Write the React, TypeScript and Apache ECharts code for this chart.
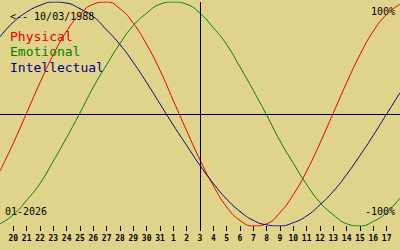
import React, { useEffect, useRef } from "react";
import * as echarts from "echarts";

// Day labels for day index 0..30 (19 Dec 2025 .. 18 Jan 2026)
const dayLabels = [
  "19", "20", "21", "22", "23", "24", "25", "26", "27", "28", "29", "30", "31",
  "1", "2", "3", "4", "5", "6", "7", "8", "9", "10", "11", "12", "13", "14", "15", "16", "17", "18",
];
const tickDays = [1, 2, 3, 4, 5, 6, 7, 8, 9, 10, 11, 12, 13, 14, 15, 16, 17, 18, 19, 20, 21, 22, 23, 24, 25, 26, 27, 28, 29];
const todayIndex = 15;

const physical = [-51, -26, 1, 28, 53, 74, 89, 98, 100, 94, 81, 62, 39, 12, -15, -41, -64, -83, -95, -100, -98, -88, -72, -51, -26, 1, 28, 53, 74, 89, 98];
const emotional = [-98, -90, -77, -62, -42, -21, 1, 24, 44, 63, 79, 90, 98, 100, 98, 90, 77, 62, 42, 21, -1, -24, -44, -63, -79, -90, -98, -100, -96, -88, -75];
const intellectual = [69, 82, 91, 97, 100, 99, 94, 87, 75, 62, 46, 28, 9, -10, -28, -46, -62, -76, -87, -95, -99, -100, -97, -91, -81, -69, -54, -37, -19, 0, 19];

const birthText = "<-- 10/03/1988";
const monthText = "01-2026";
const legendNames = ["Physical", "Emotional", "Intellectual"];
const colors = ["#e00000", "#008000", "#000088"];

const BG = "#e0d48a";
const MONO = "'DejaVu Sans Mono', monospace";

export default function App() {
  const ref = useRef<HTMLDivElement>(null);
  useEffect(() => {
    if (!ref.current) return;
    const chart = echarts.init(ref.current, null, { renderer: "svg" });
    const toPairs = (arr: number[]) => arr.map((v, i) => [i, v]);
    const mkSeries = (name: string, data: number[], color: string, extra: any = {}) => ({
      name,
      type: "line",
      data: toPairs(data),
      smooth: true,
      symbol: "none",
      lineStyle: { color, width: 1 },
      itemStyle: { color },
      silent: true,
      ...extra,
    });
    chart.setOption({
      animation: false,
      backgroundColor: BG,
      grid: { left: 0, right: 0, top: 2, bottom: 24, containLabel: false, outerBoundsMode: "none" },
      xAxis: {
        type: "value",
        min: 0,
        max: dayLabels.length - 1,
        interval: 1,
        axisLine: { show: false, onZero: false },
        splitLine: { show: false },
        axisTick: { show: true, customValues: tickDays, length: 5, lineStyle: { color: "#000", width: 1 } },
        axisLabel: {
          customValues: tickDays,
          margin: 8,
          color: "#000",
          fontSize: 8,
          fontWeight: "bold",
          fontFamily: MONO,
          formatter: (v: number) => dayLabels[v] ?? "",
        },
      },
      yAxis: {
        type: "value",
        min: -100,
        max: 100,
        show: false,
      },
      series: [
        mkSeries(legendNames[0], physical, colors[0]),
        mkSeries(legendNames[1], emotional, colors[1]),
        mkSeries(legendNames[2], intellectual, colors[2], {
          markLine: {
            silent: true,
            symbol: ["none", "none"],
            label: { show: false },
            lineStyle: { color: "#000", type: "solid", width: 1 },
            data: [{ xAxis: todayIndex }, { yAxis: 0 }],
          },
        }),
      ],
      graphic: [
        { type: "text", left: 10, top: 11.5, style: { text: birthText, fill: "#000", font: `10px ${MONO}` } },
        { type: "text", left: 10, top: 29.5, style: { text: legendNames[0], fill: colors[0], font: `13px ${MONO}` } },
        { type: "text", left: 10, top: 45, style: { text: legendNames[1], fill: colors[1], font: `13px ${MONO}` } },
        { type: "text", left: 10, top: 60.5, style: { text: legendNames[2], fill: colors[2], font: `13px ${MONO}` } },
        { type: "text", right: 5, top: 6.5, style: { text: "100%", fill: "#000", font: `10px ${MONO}` } },
        { type: "text", right: 5, top: 206.5, style: { text: "-100%", fill: "#000", font: `10px ${MONO}` } },
        { type: "text", left: 5, top: 206.5, style: { text: monthText, fill: "#000", font: `10px ${MONO}` } },
      ],
    });
    return () => chart.dispose();
  }, []);
  return (
    <div
      ref={ref}
      style={{ position: "fixed", left: 0, top: 0, width: 400, height: 250, background: BG }}
    />
  );
}
